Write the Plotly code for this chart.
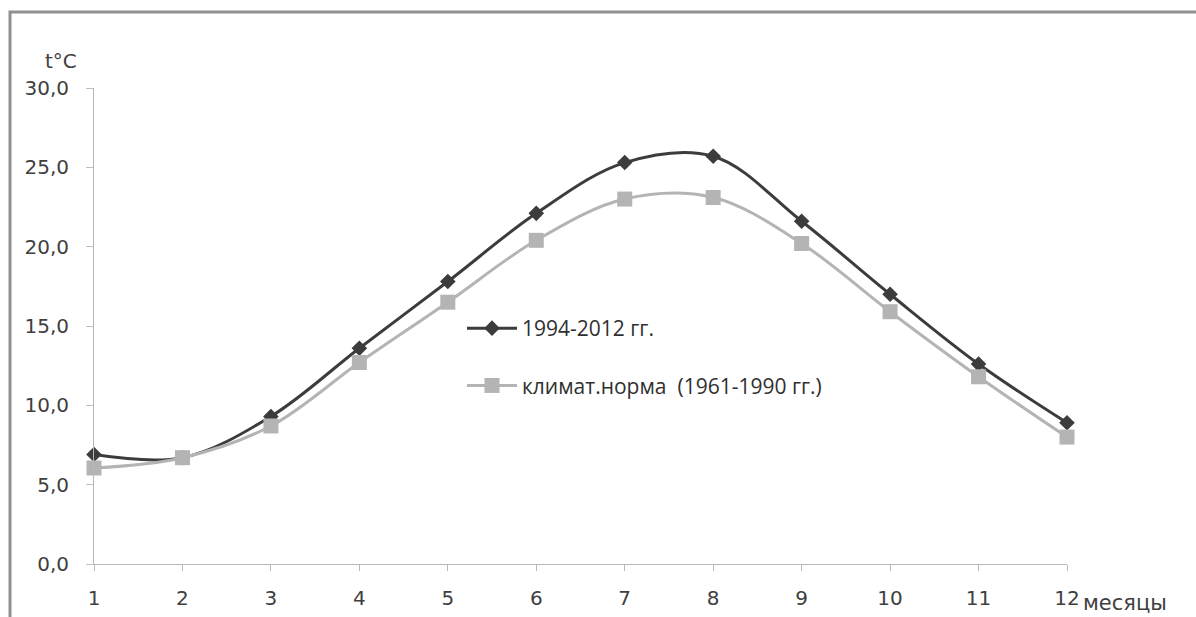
import plotly.graph_objects as go

months = list(range(1, 13))
recent = [6.9, 6.7, 9.3, 13.6, 17.8, 22.1, 25.3, 25.7, 21.6, 17.0, 12.6, 8.9]
norm = [6.05, 6.7, 8.7, 12.7, 16.5, 20.4, 23.0, 23.1, 20.2, 15.9, 11.8, 8.0]
name_recent = "1994-2012 гг."
name_norm = "климат.норма  (1961-1990 гг.)"
y_ticks = [0, 5, 10, 15, 20, 25, 30]
y_ticktext = ["0,0", "5,0", "10,0", "15,0", "20,0", "25,0", "30,0"]
x_ticktext = [str(m) for m in months]

W, H = 1196, 617
L, R, T, B = 94, 1067, 88, 564

fig = go.Figure()
fig.add_trace(go.Scatter(
    x=months, y=recent, name=name_recent, legendgroup="a",
    mode="lines+markers", line=dict(color="#3c3c3c", width=3, shape="spline", smoothing=1),
    marker=dict(symbol="diamond", size=12, color="#3c3c3c"), cliponaxis=False))
fig.add_trace(go.Scatter(
    x=months, y=norm, name=name_norm, legendgroup="b",
    mode="lines+markers", line=dict(color="#b4b4b4", width=3, shape="spline", smoothing=1),
    marker=dict(symbol="square", size=15, color="#b4b4b4"), cliponaxis=False))

def px2x(p):
    return (p - L) / (R - L)

def px2y(p):
    return (B - p) / (B - T)

fig.add_shape(type="path", xref="paper", yref="paper",
              path=f"M {px2x(10)},{px2y(640)} L {px2x(10)},{px2y(12)} L {px2x(1210)},{px2y(12)}",
              line=dict(color="#909090", width=3))

fig.add_annotation(text="t°C", xref="paper", yref="paper", x=px2x(61), y=px2y(61),
                   showarrow=False, font=dict(family="DejaVu Sans", size=20, color="#404040"),
                   xanchor="center", yanchor="middle")
fig.add_annotation(text="месяцы", xref="paper", yref="paper", x=px2x(1081), y=px2y(603),
                   showarrow=False, font=dict(family="DejaVu Sans", size=21, color="#404040"),
                   xanchor="left", yanchor="middle")

fig.update_layout(
    width=W, height=H, margin=dict(l=L, r=W - R, t=T, b=H - B, autoexpand=False),
    paper_bgcolor="white", plot_bgcolor="white",
    showlegend=True,
    legend=dict(x=px2x(462), y=px2y(308), xanchor="left", yanchor="top",
                bgcolor="rgba(0,0,0,0)", tracegroupgap=27, itemwidth=50,
                font=dict(family="Open Sans", size=21, color="#303030")),
    xaxis=dict(range=[1, 12], tickmode="array", tickvals=months, ticktext=x_ticktext,
               automargin=False,
               showgrid=False, zeroline=False, showline=True, linecolor="#b8b8b8", linewidth=1,
               ticks="outside", ticklen=6, tickcolor="#b8b8b8",
               ticklabelstandoff=10,
               tickfont=dict(family="DejaVu Sans", size=20, color="#404040")),
    yaxis=dict(range=[0, 30], tickmode="array", tickvals=y_ticks, ticktext=y_ticktext,
               automargin=False,
               showgrid=False, zeroline=False, showline=True, linecolor="#b8b8b8", linewidth=1,
               ticks="outside", ticklen=7, tickcolor="#c0c0c0",
               ticklabelstandoff=13,
               tickfont=dict(family="DejaVu Sans", size=20, color="#404040")),
)

fig.write_html("out.html")
